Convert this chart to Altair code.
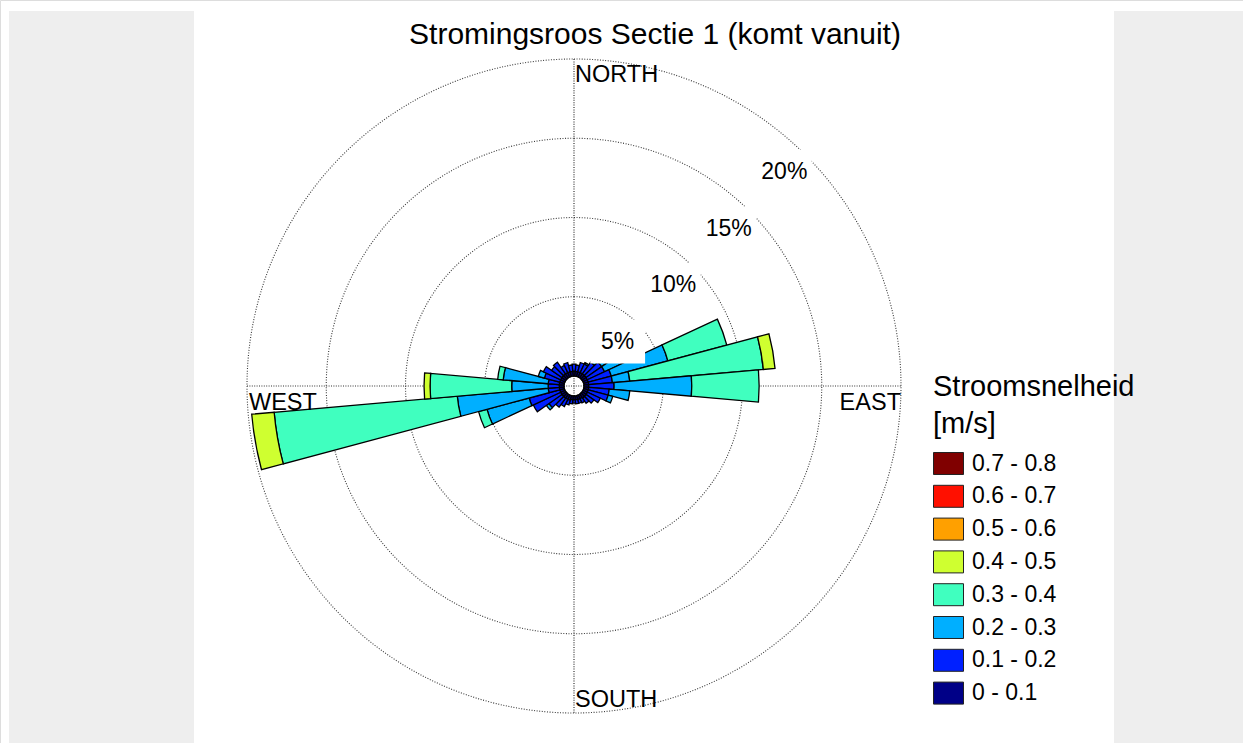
import math
import altair as alt
import pandas as pd

# Direction sectors (degrees, where the current comes from), 10 degrees wide
directions = list(range(0, 360, 10))

speed_bins = ["0 - 0.1", "0.1 - 0.2", "0.2 - 0.3", "0.3 - 0.4",
              "0.4 - 0.5", "0.5 - 0.6", "0.6 - 0.7", "0.7 - 0.8"]
bin_colors = ["#000087", "#0020FF", "#00AFFF", "#40FFBF",
              "#CFFF30", "#FFA000", "#FF1000", "#800000"]

# Share of time (%) per direction sector, one list per speed class
pct_00_01 = [0.3, 0.3, 0.3, 0.3, 0.3, 0.3, 0.3, 0.3, 0.3, 0.3,
             0.3, 0.3, 0.3, 0.3, 0.3, 0.25, 0.25, 0.25, 0.25, 0.25,
             0.3, 0.3, 0.3, 0.3, 0.3, 0.3, 0.3, 0.3, 0.3, 0.3,
             0.3, 0.3, 0.3, 0.3, 0.3, 0.3]
pct_01_02 = [0.45, 0.4, 0.6, 0.6, 0.9, 1.2, 1.2, 1.5, 1.5, 1.6,
             1.3, 1.3, 0.9, 0.6, 0.4, 0.3, 0.25, 0.25, 0.2, 0.25,
             0.3, 0.5, 0.7, 1.0, 1.9, 2.0, 0.7, 0.7, 0.7, 1.0,
             1.2, 0.8, 0.9, 0.5, 0.6, 0.4]
pct_02_03 = [0.0, 0.0, 0.0, 0.1, 0.3, 0.6, 1.8, 3.7, 1.1, 4.9,
             1.3, 0.3, 0.0, 0.0, 0.0, 0.0, 0.0, 0.0, 0.0, 0.0,
             0.0, 0.0, 0.0, 0.2, 0.0, 2.75, 5.76, 2.3, 2.85, 0.4,
             0.0, 0.0, 0.0, 0.0, 0.0, 0.0]
pct_03_04 = [0.0, 0.0, 0.0, 0.0, 0.0, 0.0, 0.0, 3.85, 8.46, 4.25,
             0.0, 0.0, 0.0, 0.0, 0.0, 0.0, 0.0, 0.0, 0.0, 0.0,
             0.0, 0.0, 0.0, 0.0, 0.0, 0.55, 11.6, 5.15, 0.35, 0.0,
             0.0, 0.0, 0.0, 0.0, 0.0, 0.0]
pct_04_05 = [0.0, 0.0, 0.0, 0.0, 0.0, 0.0, 0.0, 0.0, 0.74, 0.0,
             0.0, 0.0, 0.0, 0.0, 0.0, 0.0, 0.0, 0.0, 0.0, 0.0,
             0.0, 0.0, 0.0, 0.0, 0.0, 0.0, 1.42, 0.38, 0.0, 0.0,
             0.0, 0.0, 0.0, 0.0, 0.0, 0.0]
class_values = [pct_00_01, pct_01_02, pct_02_03, pct_03_04, pct_04_05]

ring_levels = [5, 10, 15, 20]
ring_labels = ["5%", "10%", "15%", "20%"]
title_text = "Stromingsroos Sectie 1 (komt vanuit)"
legend_title = ["Stroomsnelheid", "[m/s]"]

# ---- geometry of the rose -------------------------------------------------
W, H = 1243, 743
CX, CY = 574, 386          # centre of the rose in the page
PX = 15.85                 # pixels per percent
HOLE = 10                  # radius of the empty centre, pixels
R_MAX = ring_levels[-1]

x_dom = [-CX / PX, (W - CX) / PX]
y_dom = [(CY - H) / PX, CY / PX]
xs = alt.Scale(domain=x_dom, nice=False, zero=False)
ys = alt.Scale(domain=y_dom, nice=False, zero=False)
rs = alt.Scale(type="linear", domain=[0, R_MAX], range=[HOLE, HOLE + R_MAX * PX],
               nice=False, zero=False)
ts = alt.Scale(domain=[0, 360], range=[0, 2 * math.pi], nice=False, zero=False)
hole_u = HOLE / PX


def polar_xy(pct, deg):
    u = pct + hole_u
    a = math.radians(deg)
    return u * math.sin(a), u * math.cos(a)


# stacked sectors
rows = []
for i, d in enumerate(directions):
    cum = 0.0
    for k, vals in enumerate(class_values):
        v = vals[i]
        if v > 0:
            rows.append(dict(dir=d, klasse=speed_bins[k], r0=cum, r1=cum + v,
                             t0=d - 5, t1=d + 5))
            cum += v
bars_df = pd.DataFrame(rows)

rings_df = pd.DataFrame(dict(r=ring_levels, t0=0, t1=360))

lim = R_MAX + hole_u
cross_df = pd.DataFrame(dict(x=[0, -lim], y=[lim, 0], x2=[0, lim], y2=[-lim, 0]))

lab_rows = []
for lvl, txt in zip(ring_levels, ring_labels):
    lx, ly = polar_xy(lvl - 1.7, 44.5)
    lab_rows.append(dict(text=txt, x=lx, y=ly,
                         bx=lx - 1.73, bx2=lx + 1.73, by=ly - 1.39, by2=ly + 1.39))
lab_df = pd.DataFrame(lab_rows)

compass_df = pd.DataFrame(dict(
    text=["NORTH", "SOUTH", "EAST", "WEST"],
    x=[0, 0, lim, -lim],
    y=[lim, -lim, 0, 0],
))

X0 = alt.XDatum(0, scale=xs, axis=None)
Y0 = alt.YDatum(0, scale=ys, axis=None)

# grey side panels of the figure window
panel_df = pd.DataFrame(dict(side=["left"]))
panel_left = alt.Chart(panel_df).mark_rect(color="#eeeeee").encode(
    x=alt.value(9), x2=alt.value(194), y=alt.value(11), y2=alt.value(743)
)
panel_right = alt.Chart(panel_df).mark_rect(color="#eeeeee").encode(
    x=alt.value(1114), x2=alt.value(1243), y=alt.value(11), y2=alt.value(743)
)

rings = alt.Chart(rings_df).mark_arc(
    fillOpacity=0, stroke="#3a3a3a", strokeWidth=1.1, strokeDash=[1, 1.6]
).encode(
    x=X0, y=Y0,
    theta=alt.Theta("t0:Q", scale=ts, stack=False),
    theta2="t1:Q",
    radius=alt.Radius("r:Q", scale=rs),
)

cross = alt.Chart(cross_df).mark_rule(
    color="#333333", strokeWidth=1.2, strokeDash=[1, 1.4]
).encode(
    x=alt.X("x:Q", scale=xs, axis=None), x2="x2:Q",
    y=alt.Y("y:Q", scale=ys, axis=None), y2="y2:Q",
)

bars = alt.Chart(bars_df).mark_arc(stroke="black", strokeWidth=1.3).encode(
    x=X0, y=Y0,
    theta=alt.Theta("t0:Q", scale=ts, stack=False),
    theta2="t1:Q",
    radius=alt.Radius("r1:Q", scale=rs),
    radius2="r0:Q",
    color=alt.Color(
        "klasse:N",
        scale=alt.Scale(domain=speed_bins[::-1], range=bin_colors[::-1]),
        legend=alt.Legend(
            orient="none", legendX=933, legendY=373,
            title=legend_title, titleFontSize=29, titleFontWeight="normal",
            titleLineHeight=37, titleColor="black", titlePadding=9,
            titleLimit=400,
            labelFontSize=23, labelColor="black", labelOffset=8,
            symbolType="M-1,-0.733H1V0.733H-1Z", symbolSize=900,
            symbolStrokeColor="#222222", symbolStrokeWidth=1,
            rowPadding=3.8,
        ),
    ),
)

label_boxes = alt.Chart(lab_df).mark_rect(color="white").encode(
    x=alt.X("bx:Q", scale=xs, axis=None), x2="bx2:Q",
    y=alt.Y("by:Q", scale=ys, axis=None), y2="by2:Q",
)
label_text = alt.Chart(lab_df).mark_text(fontSize=23, color="black").encode(
    x=alt.X("x:Q", scale=xs, axis=None),
    y=alt.Y("y:Q", scale=ys, axis=None),
    text="text:N",
)


def compass_label(row, align, baseline, dx, dy):
    return alt.Chart(compass_df.iloc[row:row + 1]).mark_text(
        fontSize=23.5, color="black", align=align, baseline=baseline, dx=dx, dy=dy
    ).encode(
        x=alt.X("x:Q", scale=xs, axis=None),
        y=alt.Y("y:Q", scale=ys, axis=None),
        text="text:N",
    )


north = compass_label(0, "left", "top", 1, 4)
south = compass_label(1, "left", "bottom", 1, -1)
east = compass_label(2, "right", "top", 0, 5)
west = compass_label(3, "left", "top", 2, 5)

title = alt.Chart(pd.DataFrame(dict(text=[title_text]))).mark_text(
    fontSize=30, color="black", align="center", baseline="middle"
).encode(x=alt.value(655), y=alt.value(35), text="text:N")

chart = alt.layer(
    panel_left, panel_right, rings, cross, bars, label_boxes, label_text,
    north, south, east, west, title,
).properties(
    width=W, height=H, padding=0, autosize=alt.AutoSizeParams(type="none"),
    background="white",
).configure_view(strokeWidth=0).configure(font="Liberation Sans")

chart.save("out.html", embed_options={"renderer": "svg", "actions": False})
